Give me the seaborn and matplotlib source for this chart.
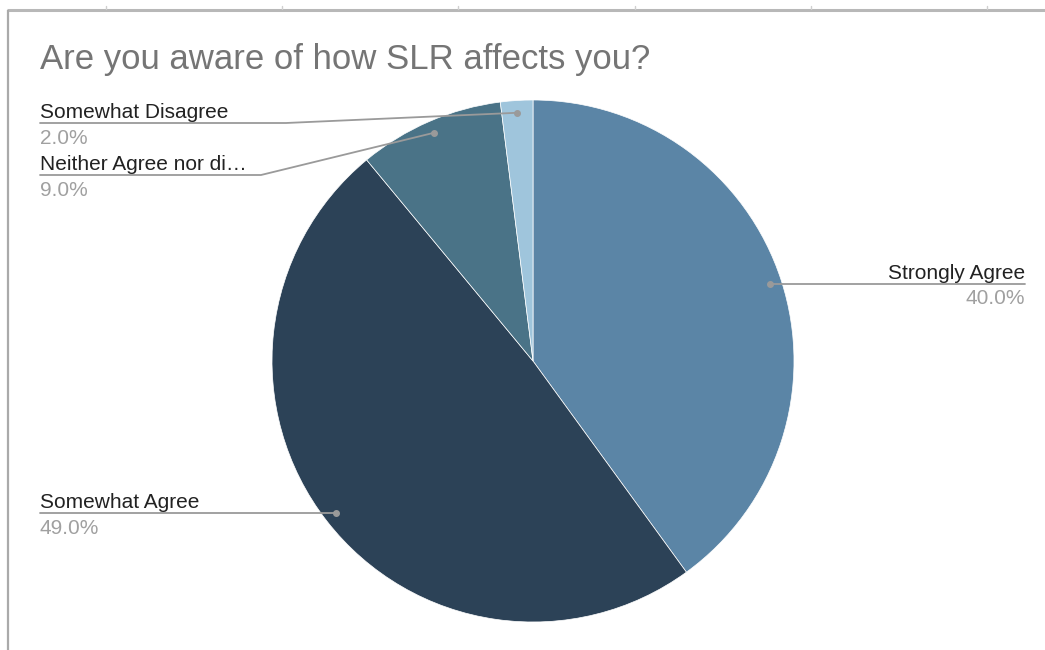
import numpy as np
import matplotlib
matplotlib.use("Agg")
import matplotlib.pyplot as plt
import seaborn as sns

# Survey responses
categories = ["Strongly Agree", "Somewhat Agree", "Neither Agree nor di\u2026", "Somewhat Disagree"]
shares = [40.0, 49.0, 9.0, 2.0]
colors = ["#5b85a6", "#2c4257", "#4a7387", "#9fc5dc"]
title = "Are you aware of how SLR affects you?"

sns.set_theme(style="white")
plt.rcParams["font.family"] = ["Liberation Sans", "DejaVu Sans"]

W, H = 1045, 650
fig = plt.figure(figsize=(W / 100, H / 100), dpi=100)
ax = fig.add_axes([0, 0, 1, 1])

# pie geometry in pixel units (y measured from the bottom)
cx, cy, R = 533, H - 361, 261
wedges, _ = ax.pie(
    shares, colors=colors, startangle=90, counterclock=False,
    center=(cx, cy), radius=R, frame=True,
    wedgeprops=dict(edgecolor="white", linewidth=0.5),
)
ax.set_xlim(0, W)
ax.set_ylim(0, H)
ax.set_aspect("equal")
ax.axis("off")

# sheet frame: top rule with column ticks and left rule
ax.plot([7, W], [H - 10, H - 10], color="#b8b8b8", lw=2.2, solid_capstyle="butt")
ax.plot([8, 8], [H - 10, 0], color="#aaaaaa", lw=1.6, solid_capstyle="butt")
for tx in np.arange(106, W, 176.2):
    ax.plot([tx, tx], [H - 6, H - 9], color="#d0d0d0", lw=1)

ax.text(40, H - 69, title, fontsize=25, color="#757575", ha="left", va="baseline")

line_col = "#9a9a9a"
# label line heights for the crowded left-hand labels
left_line_y = {2: H - 175, 3: H - 123}
bend_x = {2: 261, 3: 286}
lab_fs = 15

total = sum(shares)
start = 90.0
for i, (name, val) in enumerate(zip(categories, shares)):
    sweep = 360.0 * val / total
    mid = np.deg2rad(start - sweep / 2)
    start -= sweep
    px = cx + 0.953 * R * np.cos(mid)
    py = cy + 0.953 * R * np.sin(mid)
    ax.plot([px], [py], "o", ms=4, color=line_col, zorder=5)
    pct = f"{val:.1f}%"
    if px > cx:
        ly = py
        x_end = 1025
        ax.plot([px, x_end], [ly, ly], color=line_col, lw=1.3, zorder=4)
        ax.text(x_end, ly + 5, name, fontsize=lab_fs, color="#222222", ha="right", va="baseline")
        ax.text(x_end, ly - 20, pct, fontsize=lab_fs, color="#a0a0a0", ha="right", va="baseline")
    else:
        ly = left_line_y.get(i, py)
        bx = bend_x.get(i, px)
        ax.plot([40, bx, px], [ly, ly, py], color=line_col, lw=1.3, zorder=4)
        ax.text(40, ly + 5, name, fontsize=lab_fs, color="#222222", ha="left", va="baseline")
        ax.text(40, ly - 21, pct, fontsize=lab_fs, color="#a0a0a0", ha="left", va="baseline")

fig.savefig("out.png", dpi=100, facecolor="white")
